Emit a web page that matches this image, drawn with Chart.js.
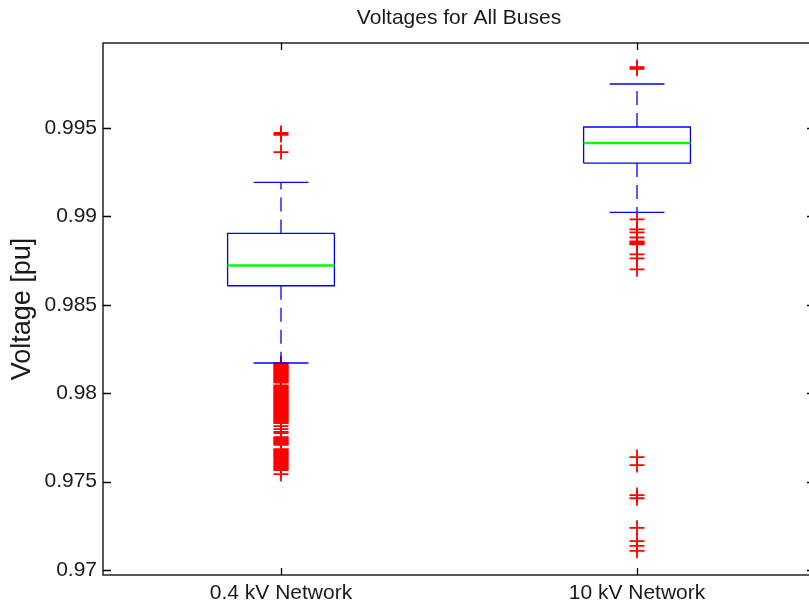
<!DOCTYPE html>
<html>
<head>
<meta charset="utf-8">
<script src="https://cdn.jsdelivr.net/npm/chart.js@4.4.0/dist/chart.umd.min.js"></script>
<style>
  html, body { margin: 0; padding: 0; background: #fff; overflow: hidden; }
  canvas { display: block; }
</style>
</head>
<body>
<canvas id="chartBox" width="830" height="607" style="width:830px;height:607px"></canvas>
<script>
// box statistics
const categories = ['0.4 kV Network', '10 kV Network'];
const positions = [1, 2];
const q1 = [0.98608, 0.99302];
const medians = [0.98723, 0.99415];
const q3 = [0.98904, 0.99506];
const whiskerLow = [0.98171, 0.99023];
const whiskerHigh = [0.99193, 0.99749];

// 0.4 kV outliers, the low ones are packed so tight they form solid blocks
const outliers04 = [
  0.99472, 0.99461, 0.99364,
  0.98170, 0.98166, 0.98161, 0.98155, 0.98151, 0.98145, 0.98140, 0.98136,
  0.98130, 0.98125, 0.98121, 0.98115, 0.98110, 0.98106, 0.98100, 0.98095,
  0.98091, 0.98085, 0.98080, 0.98076, 0.98070, 0.98065, 0.98060,
  0.98045, 0.98041, 0.98035, 0.98030, 0.98026, 0.98020, 0.98015, 0.98011,
  0.98005, 0.98000, 0.97996, 0.97990, 0.97985, 0.97981, 0.97975, 0.97970,
  0.97966, 0.97960, 0.97955, 0.97951, 0.97945, 0.97940, 0.97936, 0.97930,
  0.97925, 0.97921, 0.97915, 0.97910, 0.97906, 0.97900, 0.97895, 0.97891,
  0.97885, 0.97880, 0.97876, 0.97870, 0.97865, 0.97861, 0.97855, 0.97850,
  0.97846, 0.97841, 0.97838,
  0.97831, 0.97814, 0.97797, 0.97781, 0.97775,
  0.97752, 0.97747, 0.97742, 0.97736, 0.97731, 0.97726, 0.97720, 0.97714,
  0.97708,
  0.97684, 0.97679, 0.97674, 0.97668, 0.97663, 0.97658, 0.97652, 0.97647,
  0.97643, 0.97637, 0.97632, 0.97627, 0.97622,
  0.97611, 0.97606, 0.97600, 0.97595, 0.97589, 0.97584, 0.97578, 0.97572,
  0.97566,
  0.97543
];
const outliers10 = [
  0.99845, 0.99835,
  0.98983, 0.98927, 0.98910, 0.98881, 0.98859, 0.98853, 0.98847, 0.98842,
  0.98785, 0.98763, 0.98701,
  0.97639, 0.97594, 0.97424, 0.97406, 0.97239, 0.97164, 0.97137, 0.97109
];

const yTicks = [0.97, 0.975, 0.98, 0.985, 0.99, 0.995];
const yMin = 0.96972, yMax = 0.99981;

const boxHalf = 0.15;
const capHalf = 0.077;
const fontName = '"Liberation Sans", Arial, sans-serif';
const textColor = '#1a1a1a';

const datasets = [];
const outlierSets = [outliers04, outliers10];

positions.forEach((p, i) => {
  datasets.push({
    label: 'box' + i,
    data: [
      { x: p - boxHalf, y: q1[i] }, { x: p + boxHalf, y: q1[i] },
      { x: p + boxHalf, y: q3[i] }, { x: p - boxHalf, y: q3[i] },
      { x: p - boxHalf, y: q1[i] }
    ],
    showLine: true, borderColor: '#0000ff', borderWidth: 1.3, pointRadius: 0, order: 1
  });
  datasets.push({
    label: 'median' + i,
    data: [{ x: p - boxHalf, y: medians[i] }, { x: p + boxHalf, y: medians[i] }],
    showLine: true, borderColor: '#00ff00', borderWidth: 2.5, pointRadius: 0, order: 0
  });
  datasets.push({
    label: 'whiskUp' + i,
    data: [{ x: p, y: q3[i] }, { x: p, y: whiskerHigh[i] }],
    showLine: true, borderColor: '#0000ff', borderWidth: 1.3, borderDash: [14, 8], pointRadius: 0, order: 1
  });
  datasets.push({
    label: 'whiskLo' + i,
    data: [{ x: p, y: q1[i] }, { x: p, y: whiskerLow[i] }],
    showLine: true, borderColor: '#0000ff', borderWidth: 1.3, borderDash: [14, 8], pointRadius: 0, order: 1
  });
  [whiskerHigh[i], whiskerLow[i]].forEach((w, k) => {
    datasets.push({
      label: 'cap' + i + k,
      data: [{ x: p - capHalf, y: w }, { x: p + capHalf, y: w }],
      showLine: true, borderColor: '#0000ff', borderWidth: 1.3, pointRadius: 0, order: 1
    });
  });
  datasets.push({
    label: 'outliers' + i,
    data: outlierSets[i].map(v => ({ x: p, y: v })),
    showLine: false, pointStyle: 'cross', pointRadius: 7.5, pointBorderWidth: 1.8,
    borderColor: '#ff0000', backgroundColor: '#ff0000', order: 2
  });
});

// MATLAB style frame with inward ticks
const framePlugin = {
  id: 'frame',
  afterDraw(chart) {
    const { ctx, chartArea: a, scales } = chart;
    ctx.save();
    ctx.strokeStyle = '#000';
    ctx.lineWidth = 1.3;
    ctx.strokeRect(a.left, a.top, a.right - a.left, a.bottom - a.top);
    ctx.beginPath();
    yTicks.forEach(v => {
      const y = Math.round(scales.y.getPixelForValue(v)) + 0.5;
      ctx.moveTo(a.left, y); ctx.lineTo(a.left + 8, y);
      ctx.moveTo(a.right, y); ctx.lineTo(a.right - 8, y);
    });
    positions.forEach(p => {
      const x = Math.round(scales.x.getPixelForValue(p)) + 0.5;
      ctx.moveTo(x, a.bottom); ctx.lineTo(x, a.bottom - 7);
      ctx.moveTo(x, a.top); ctx.lineTo(x, a.top + 7);
    });
    ctx.stroke();
    ctx.restore();
  }
};

const ctx = document.getElementById('chartBox').getContext('2d');
new Chart(ctx, {
  type: 'scatter',
  data: { datasets },
  options: {
    responsive: false,
    animation: false,
    devicePixelRatio: 1,
    layout: { padding: { top: 0, left: 0, right: 15, bottom: 0 } },
    plugins: {
      legend: { display: false },
      tooltip: { enabled: false },
      title: {
        display: true,
        text: 'Voltages for All Buses',
        fullSize: false,
        color: textColor,
        font: { family: fontName, size: 21, weight: 'normal', lineHeight: 1.2 },
        padding: { top: 6, bottom: 11.8 }
      }
    },
    scales: {
      x: {
        type: 'linear',
        min: 0.5, max: 2.5,
        afterBuildTicks: s => { s.ticks = positions.map(v => ({ value: v })); },
        afterFit: s => { s.height = 32; },
        grid: { display: false, drawTicks: false },
        border: { display: false },
        ticks: {
          padding: 6,
          color: textColor,
          font: { family: fontName, size: 21 },
          callback: v => categories[positions.indexOf(v)] || ''
        }
      },
      y: {
        min: yMin, max: yMax,
        afterBuildTicks: s => { s.ticks = yTicks.map(v => ({ value: v })); },
        afterFit: s => { s.width = 103; },
        grid: { display: false, drawTicks: false },
        border: { display: false },
        title: {
          display: true,
          text: 'Voltage [pu]',
          color: textColor,
          font: { family: fontName, size: 27 },
          padding: { top: 6, bottom: 0 }
        },
        ticks: {
          padding: 6,
          color: textColor,
          font: { family: fontName, size: 21 },
          callback: v => String(v)
        }
      }
    }
  },
  plugins: [framePlugin]
});
</script>
</body>
</html>
